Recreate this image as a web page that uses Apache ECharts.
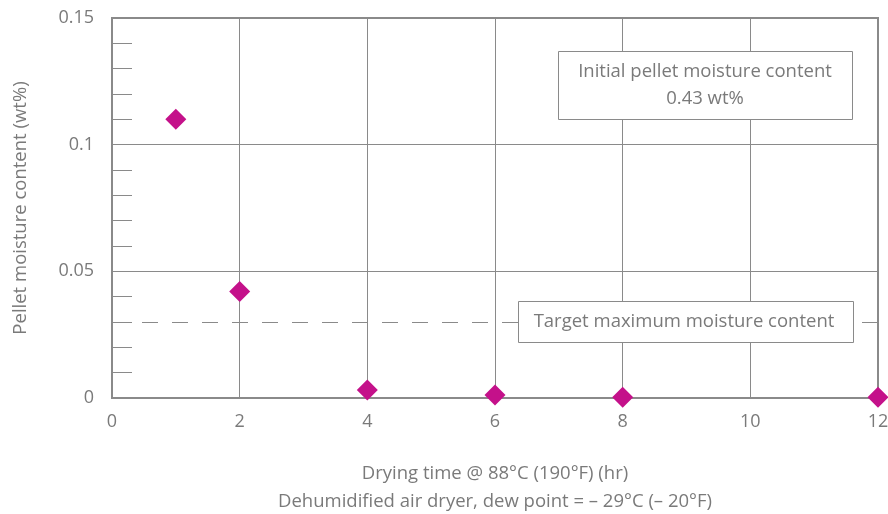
<!DOCTYPE html>
<html><head><meta charset="utf-8">
<script src="https://cdn.jsdelivr.net/npm/echarts@6/dist/echarts.min.js"></script>
<style>html,body{margin:0;padding:0;background:#fff}#c{width:888px;height:514px}</style>
</head><body><div id="c"></div>
<script>
var dryingHours = [1, 2, 4, 6, 8, 12];
var moistureWt = [0.110, 0.042, 0.0032, 0.0012, 0.0003, 0.0003];
var xTicks = [0, 2, 4, 6, 8, 10, 12];
var yTicks = [0, 0.05, 0.1, 0.15];
var targetMax = 0.03;
var xTitle = 'Drying time @ 88°C (190°F) (hr)\nDehumidified air dryer, dew point = – 29°C (– 20°F)';
var yTitle = 'Pellet moisture content (wt%)';
var note1 = 'Initial pellet moisture content\n0.43 wt%';
var note2 = 'Target maximum moisture content';

var FONT = 'Open Sans';
var GRAY = '#7a7a7a';
var LINE = '#8a8a8a';
var chart = echarts.init(document.getElementById('c'));
chart.setOption({
  animation: false,
  grid: {left: 112, right: 10, top: 18, bottom: 116, show: true, borderColor: LINE, borderWidth: 2,
    outerBoundsMode: 'none', containLabel: false},
  xAxis: {
    type: 'value', min: 0, max: 12, interval: 2,
    name: xTitle, nameLocation: 'middle', nameGap: 62,
    nameTextStyle: {fontFamily: FONT, fontSize: 18.5, color: GRAY, lineHeight: 28},
    axisLine: {show: true, lineStyle: {color: LINE, width: 2}},
    axisTick: {show: false},
    axisLabel: {fontFamily: FONT, fontSize: 18, color: GRAY, margin: 15,
      formatter: function (v) { return xTicks.indexOf(v) >= 0 ? String(v) : ''; }},
    splitLine: {show: true, lineStyle: {color: LINE, width: 1}}
  },
  yAxis: [{
    type: 'value', min: 0, max: 0.15, interval: 0.05,
    name: yTitle, nameLocation: 'middle', nameGap: 82,
    nameTextStyle: {fontFamily: FONT, fontSize: 18.5, color: GRAY},
    axisLine: {show: true, lineStyle: {color: LINE, width: 2}},
    axisTick: {show: false},
    axisLabel: {fontFamily: FONT, fontSize: 18, color: GRAY, margin: 18,
      formatter: function (v) {
        for (var i = 0; i < yTicks.length; i++) if (Math.abs(yTicks[i] - v) < 1e-9) return String(yTicks[i]);
        return '';
      }},
    splitLine: {show: true, lineStyle: {color: LINE, width: 1}}
  }, {
    type: 'value', min: 0, max: 0.15, interval: 0.01, position: 'left',
    axisLine: {show: false}, axisLabel: {show: false}, splitLine: {show: false},
    axisTick: {show: true, inside: true, length: 20, lineStyle: {color: LINE, width: 1}}
  }],
  series: [{
    type: 'scatter', yAxisIndex: 0,
    data: dryingHours.map(function (h, i) { return [h, moistureWt[i]]; }),
    symbol: 'diamond', symbolSize: 21,
    itemStyle: {color: '#C4118A', opacity: 1},
    z: 10,
    markLine: {
      silent: true, symbol: 'none', label: {show: false},
      lineStyle: {color: LINE, type: [16, 14], width: 1},
      data: [{yAxis: targetMax}]
    }
  }],
  graphic: [
    {type: 'rect', shape: {x: 558.5, y: 51.5, width: 294, height: 68},
      style: {fill: '#fff', stroke: LINE, lineWidth: 1}, z: 20},
    {type: 'text', x: 705, y: 85, z: 21,
      style: {text: note1, fill: GRAY, font: '18.5px "' + FONT + '"', align: 'center', verticalAlign: 'middle', lineHeight: 27}},
    {type: 'rect', shape: {x: 518.5, y: 301.5, width: 335, height: 41},
      style: {fill: '#fff', stroke: LINE, lineWidth: 1}, z: 20},
    {type: 'text', x: 684, y: 322, z: 21,
      style: {text: note2, fill: GRAY, font: '18.5px "' + FONT + '"', align: 'center', verticalAlign: 'middle'}}
  ]
});
</script></body></html>
